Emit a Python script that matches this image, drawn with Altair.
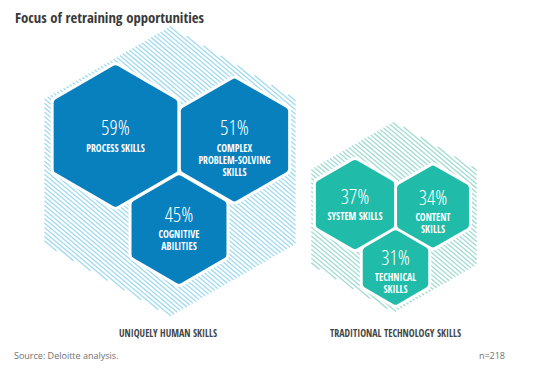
import math
import altair as alt
import pandas as pd

# ---- data ----
skills = ["PROCESS SKILLS", "COMPLEX\nPROBLEM-SOLVING\nSKILLS", "COGNITIVE\nABILITIES",
          "SYSTEM SKILLS", "CONTENT\nSKILLS", "TECHNICAL\nSKILLS"]
values = [59, 51, 45, 37, 34, 31]
groups = ["human", "human", "human", "tech", "tech", "tech"]
group_names = ["UNIQUELY HUMAN SKILLS", "TRADITIONAL TECHNOLOGY SKILLS"]
title_text = "Focus of retraining opportunities"
source_text = "Source: Deloitte analysis."
n_text = "n=218"

# ---- layout (page pixel coordinates) ----
hex_x = [115.5, 234.5, 179, 355, 433, 395.5]
hex_y = [136, 140, 229.5, 204.5, 206.5, 267.5]
pct_dy = [-1, -5, -8, -1, -2, -3]          # percentage baseline relative to centre
bg_x = [170, 394]
bg_y = [171.5, 217]
bg_r = [145, 95.5]
group_label_x = [168, 395.5]

BLUE = "#0780bd"
TEAL = "#20bca9"
HATCH = {"human": "#a3dbf0", "tech": "#a5dcd3"}

W, H = 538, 357
X0, Y0 = 8, 8

HEX = "M0,-1L0.866,-0.5L0.866,0.5L0,1L-0.866,0.5L-0.866,-0.5Z"


def hatch_path(radius_px, spacing_px=3.4, angle_deg=40):
    th = math.radians(angle_deg)
    d = (math.cos(th), math.sin(th))
    nrm = (-math.sin(th), math.cos(th))
    a = math.cos(math.radians(30))
    edges = [(math.cos(math.radians(k * 60)), math.sin(math.radians(k * 60))) for k in range(6)]
    step = spacing_px / radius_px
    parts = []
    c = -1.0
    while c <= 1.0:
        tmin, tmax = -5.0, 5.0
        ok = True
        for ex, ey in edges:
            nd = ex * d[0] + ey * d[1]
            rhs = a - c * (ex * nrm[0] + ey * nrm[1])
            if abs(nd) < 1e-9:
                if rhs < 0:
                    ok = False
                continue
            t = rhs / nd
            if nd > 0:
                tmax = min(tmax, t)
            else:
                tmin = max(tmin, t)
        if ok and tmax > tmin:
            p1 = (c * nrm[0] + tmin * d[0], c * nrm[1] + tmin * d[1])
            p2 = (c * nrm[0] + tmax * d[0], c * nrm[1] + tmax * d[1])
            parts.append(f"M{p1[0]:.4f},{p1[1]:.4f}L{p2[0]:.4f},{p2[1]:.4f}")
        c += step
    return "".join(parts)


xs = alt.Scale(domain=[X0, X0 + W], range=[0, W], zero=False, nice=False)
ys = alt.Scale(domain=[Y0, Y0 + H], range=[0, H], zero=False, nice=False)
X = lambda f: alt.X(f, type="quantitative", scale=xs, axis=None)
Y = lambda f: alt.Y(f, type="quantitative", scale=ys, axis=None)

hexes = pd.DataFrame({"skill": skills, "value": values, "group": groups,
                      "x": hex_x, "y": hex_y})
hexes["pct"] = hexes["value"].astype(str) + "%"
hexes["pct_y"] = [y + d for y, d in zip(hex_y, pct_dy)]
hexes["lab_y"] = hexes["pct_y"] + 16.5

bg = pd.DataFrame({"group": ["human", "tech"], "x": bg_x, "y": bg_y, "r": bg_r,
                   "name": group_names, "lx": group_label_x})

size_scale = alt.Scale(type="pow", exponent=2, domain=[30, 60], range=[4084, 18483])
col_scale = alt.Scale(domain=["human", "tech"], range=[BLUE, TEAL])

hatch_layers = []
for i, g in enumerate(["human", "tech"]):
    hatch_layers.append(
        alt.Chart(bg[bg.group == g]).mark_point(
            shape=hatch_path(bg_r[i]), filled=False, stroke=HATCH[g],
            strokeWidth=1.35, opacity=1
        ).encode(x=X("x"), y=Y("y"), size=alt.value((2 * bg_r[i]) ** 2))
    )

halo = alt.Chart(hexes).mark_point(
    shape=HEX, filled=True, fill="white", stroke="white", strokeWidth=14,
    strokeJoin="round", opacity=1
).encode(x=X("x"), y=Y("y"), size=alt.Size("value:Q", scale=size_scale, legend=None))

solid = alt.Chart(hexes).mark_point(
    shape=HEX, filled=True, strokeWidth=8, strokeJoin="round", opacity=1
).encode(
    x=X("x"), y=Y("y"),
    size=alt.Size("value:Q", scale=size_scale, legend=None),
    fill=alt.Fill("group:N", scale=col_scale, legend=None),
    stroke=alt.Stroke("group:N", scale=col_scale, legend=None),
)

COND = "'Open Sans Condensed', 'Roboto Condensed', sans-serif"
LIGHT = "'Open Sans Condensed Light', 'Roboto Condensed', sans-serif"

pct = alt.Chart(hexes).mark_text(
    font=LIGHT, fontSize=20.5, fontWeight=300, color="white", baseline="alphabetic", align="center"
).encode(x=X("x"), y=Y("pct_y"), text="pct:N")

labels = alt.Chart(hexes).mark_text(
    font=COND, fontSize=9.8, fontWeight="bold", color="white", baseline="alphabetic",
    align="center", lineBreak="\n", lineHeight=12
).encode(x=X("x"), y=Y("lab_y"), text="skill:N")

group_labels = alt.Chart(bg).mark_text(
    font=COND, fontSize=9.9, fontWeight="bold", color="#444444", baseline="alphabetic",
    align="center"
).encode(x=X("lx"), y=alt.value(337 - Y0), text="name:N")

title = alt.Chart(pd.DataFrame({"t": [title_text]})).mark_text(
    font=COND, fontSize=14.7, fontWeight="bold", color="#3a3a3a", baseline="alphabetic", align="left"
).encode(x=alt.value(15 - X0), y=alt.value(22.5 - Y0), text="t:N")

source = alt.Chart(pd.DataFrame({"t": [source_text]})).mark_text(
    font="'Open Sans', sans-serif", fontSize=9, color="#707070", baseline="alphabetic", align="left"
).encode(x=alt.value(14 - X0), y=alt.value(359 - Y0), text="t:N")

ncount = alt.Chart(pd.DataFrame({"t": [n_text]})).mark_text(
    font="'Open Sans', sans-serif", fontSize=9, color="#707070", baseline="alphabetic", align="right"
).encode(x=alt.value(505 - X0), y=alt.value(359 - Y0), text="t:N")

chart = alt.layer(*hatch_layers, halo, solid, pct, labels, group_labels, title, source, ncount).properties(
    width=W, height=H, padding=0, autosize=alt.AutoSizeParams(type="none")
).configure_view(stroke=None)

chart.save("out.html", embed_options={"renderer": "svg", "actions": False})
